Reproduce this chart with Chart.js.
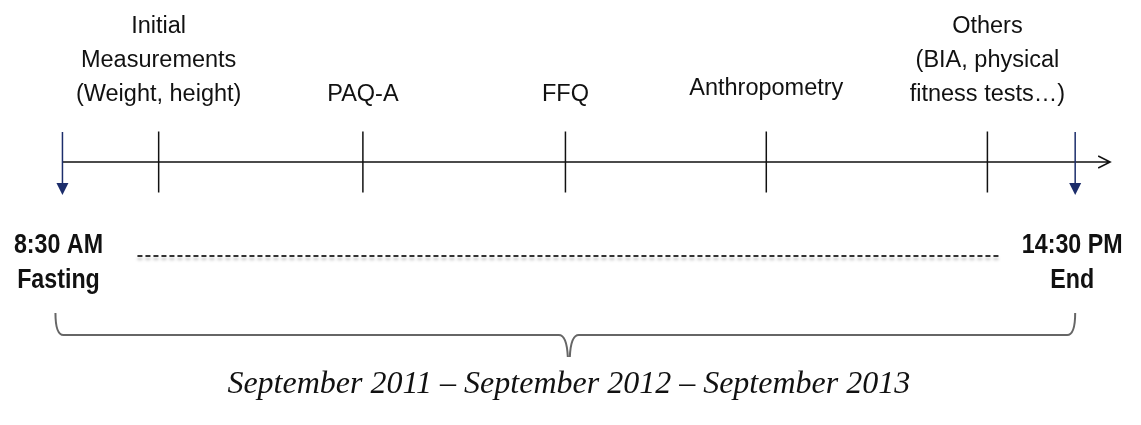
<!DOCTYPE html>
<html>
<head>
<meta charset="utf-8">
<script src="https://cdn.jsdelivr.net/npm/chart.js@4/dist/chart.umd.min.js"></script>
<style>
  html, body { margin: 0; padding: 0; background: #fff; }
</style>
</head>
<body>
<canvas id="myChart" width="1141" height="425"></canvas>
<script>
// steps of the study day, in hours after the 8:30 start
var stepLabels = [
  ['Initial', 'Measurements', '(Weight, height)'],
  ['PAQ-A'],
  ['FFQ'],
  ['Anthropometry'],
  ['Others', '(BIA, physical', 'fitness tests…)']
];
var stepHours = [0.57, 1.78, 2.98, 4.17, 5.48];
var dayHours = [0, 6];
var startLabel = ['8:30 AM', 'Fasting'];
var endLabel = ['14:30 PM', 'End'];
var periodLabel = 'September 2011 – September 2012 – September 2013';

var AXIS_Y = 162;
var SANS = '"Liberation Sans", Arial, sans-serif';

// narrow bold text (no Arial Narrow installed, so squeeze the regular bold)
function narrowText(ctx, text, px, py) {
  ctx.save();
  ctx.translate(px, py);
  ctx.scale(0.83, 1);
  ctx.fillText(text, 0, 0);
  ctx.restore();
}

var timelineDecor = {
  id: 'timelineDecor',
  beforeDatasetsDraw: function(chart) {
    var ctx = chart.ctx, x = chart.scales.x;
    var x0 = x.getPixelForValue(dayHours[0]);
    var x1 = x.getPixelForValue(dayHours[1]);
    ctx.save();
    // main axis with open arrow head
    ctx.strokeStyle = '#111';
    ctx.lineWidth = 1.5;
    ctx.beginPath();
    ctx.moveTo(x0, AXIS_Y);
    ctx.lineTo(x1 + 35, AXIS_Y);
    ctx.moveTo(x1 + 23, AXIS_Y - 6);
    ctx.lineTo(x1 + 35, AXIS_Y);
    ctx.lineTo(x1 + 23, AXIS_Y + 6);
    ctx.stroke();
    ctx.restore();
  },
  afterDatasetsDraw: function(chart) {
    var ctx = chart.ctx, x = chart.scales.x;
    var x0 = x.getPixelForValue(dayHours[0]);
    var x1 = x.getPixelForValue(dayHours[1]);
    ctx.save();

    // blue start / end arrows
    [x0, x1].forEach(function(px) {
      ctx.strokeStyle = '#1c2d6b';
      ctx.fillStyle = '#1c2d6b';
      ctx.lineWidth = 1.5;
      ctx.beginPath();
      ctx.moveTo(px, AXIS_Y - 30);
      ctx.lineTo(px, AXIS_Y + 22);
      ctx.stroke();
      ctx.beginPath();
      ctx.moveTo(px - 6, AXIS_Y + 21);
      ctx.lineTo(px + 6, AXIS_Y + 21);
      ctx.lineTo(px, AXIS_Y + 33);
      ctx.closePath();
      ctx.fill();
    });

    // step labels above the axis
    ctx.fillStyle = '#111';
    ctx.font = '23.5px ' + SANS;
    ctx.textAlign = 'center';
    ctx.textBaseline = 'alphabetic';
    stepLabels.forEach(function(lines, i) {
      var px = x.getPixelForValue(stepHours[i]);
      var base = lines.length === 1 && lines[0] === 'Anthropometry' ? 95 : 101;
      for (var k = lines.length - 1; k >= 0; k--) {
        ctx.fillText(lines[k], px, base - (lines.length - 1 - k) * 34);
      }
    });

    // start / end labels
    ctx.font = 'bold 28px ' + SANS;
    [[startLabel, x0 - 4], [endLabel, x1 - 3]].forEach(function(item) {
      narrowText(ctx, item[0][0], item[1], 253);
      narrowText(ctx, item[0][1], item[1], 288);
    });

    // dashed line between start and end
    ctx.save();
    ctx.strokeStyle = '#333';
    ctx.lineWidth = 2;
    ctx.setLineDash([5, 3]);
    ctx.shadowColor = 'rgba(0,0,0,0.25)';
    ctx.shadowBlur = 3;
    ctx.shadowOffsetY = 3;
    ctx.beginPath();
    ctx.moveTo(x0 + 75, 256);
    ctx.lineTo(x1 - 75, 256);
    ctx.stroke();
    ctx.restore();

    // curly brace under the whole day
    var bl = x0 - 7, br = x1, mid = (x0 + x1) / 2, by = 335;
    ctx.strokeStyle = '#666';
    ctx.lineWidth = 2;
    ctx.beginPath();
    ctx.moveTo(bl, 313);
    ctx.quadraticCurveTo(bl, by, bl + 8, by);
    ctx.lineTo(mid - 10, by);
    ctx.quadraticCurveTo(mid - 2, by, mid - 1, 357);
    ctx.moveTo(mid + 1, 357);
    ctx.quadraticCurveTo(mid + 2, by, mid + 10, by);
    ctx.lineTo(br - 8, by);
    ctx.quadraticCurveTo(br, by, br, 313);
    ctx.stroke();

    // study period
    ctx.fillStyle = '#111';
    ctx.font = 'italic 32px "Liberation Serif", "DejaVu Serif", serif';
    ctx.fillText(periodLabel, mid, 393);

    ctx.restore();
  }
};

var ctx = document.getElementById('myChart').getContext('2d');
var chart = new Chart(ctx, {
  type: 'scatter',
  data: {
    datasets: [{
      label: 'Steps',
      data: stepHours.map(function(h) { return { x: h, y: AXIS_Y }; }),
      pointStyle: 'line',
      rotation: 90,
      pointRadius: 30.5,
      pointHoverRadius: 30.5,
      borderColor: '#111',
      borderWidth: 1.5,
      clip: false
    }]
  },
  options: {
    responsive: false,
    animation: false,
    events: [],
    layout: { padding: 0, autoPadding: false },
    plugins: {
      legend: { display: false },
      tooltip: { enabled: false }
    },
    scales: {
      x: { type: 'linear', display: false, min: -0.37, max: 6.39 },
      y: { display: false, min: 0, max: 425, reverse: true }
    }
  },
  plugins: [timelineDecor]
});
</script>
</body>
</html>
